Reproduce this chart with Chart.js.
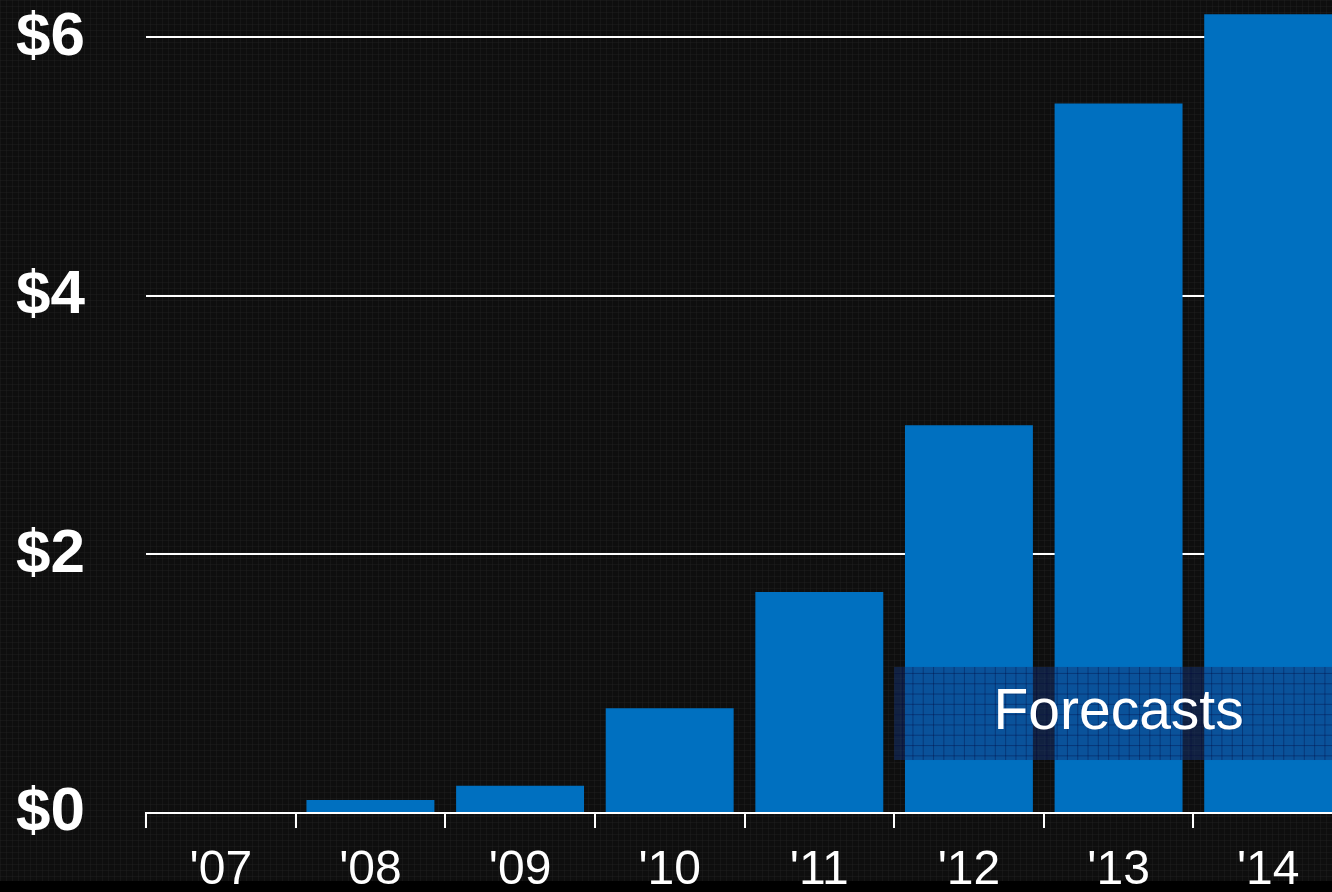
<!DOCTYPE html>
<html>
<head>
<meta charset="utf-8">
<script src="https://cdn.jsdelivr.net/npm/chart.js@4/dist/chart.umd.min.js"></script>
<style>
  html, body { margin: 0; padding: 0; background: #0f0f0f; overflow: hidden; }
  #wrap { position: relative; width: 1343px; height: 892px; }
</style>
</head>
<body>
<div id="wrap"><canvas id="c"></canvas></div>
<script>
// ---- data ----
const categories = ["'07", "'08", "'09", "'10", "'11", "'12", "'13", "'14"];
const values = [0, 0.10, 0.21, 0.81, 1.71, 3.00, 5.49, 6.18];
const yTickValues = [0, 2, 4, 6];
const forecastLabel = "Forecasts";
const forecastStartCategory = "'12";
const forecastBandRange = [0.41, 1.13];

const bgPlugin = {
  id: 'bg',
  beforeDraw(chart) {
    const { ctx, width, height } = chart;
    ctx.save();
    ctx.fillStyle = '#0e0e0e';
    ctx.fillRect(0, 0, width, height);
    ctx.globalAlpha = 0.35;
    ctx.fillStyle = '#262626';
    for (let x = 0; x < width; x += 6) ctx.fillRect(x, 0, 1, height);
    for (let y = 0; y < height; y += 6) ctx.fillRect(0, y, width, 1);
    ctx.globalAlpha = 1;
    ctx.fillStyle = '#000';
    ctx.fillRect(0, 881, width, height - 881);
    ctx.restore();
  }
};

const forecastPlugin = {
  id: 'forecast',
  afterDatasetsDraw(chart) {
    const { ctx, scales: { x, y }, chartArea } = chart;
    const idx = categories.indexOf(forecastStartCategory);
    const half = (x.getPixelForValue(1) - x.getPixelForValue(0)) / 2;
    const left = x.getPixelForValue(idx) - half;
    const right = chartArea.right;
    const top = y.getPixelForValue(forecastBandRange[1]);
    const bottom = y.getPixelForValue(forecastBandRange[0]);
    ctx.save();
    ctx.fillStyle = 'rgba(20,52,116,0.5)';
    ctx.fillRect(left, top, right - left, bottom - top);
    ctx.beginPath();
    ctx.rect(left, top, right - left, bottom - top);
    ctx.clip();
    ctx.fillStyle = 'rgba(0,10,60,0.35)';
    for (let xx = left + 8; xx < right; xx += 10.3) ctx.fillRect(xx, top, 1, bottom - top);
    for (let yy = top + 6; yy < bottom; yy += 10.3) ctx.fillRect(left, yy, right - left, 1);
    ctx.restore();
    ctx.save();
    ctx.fillStyle = '#ffffff';
    ctx.font = '57px "Liberation Sans", Arial, sans-serif';
    ctx.textAlign = 'center';
    ctx.textBaseline = 'middle';
    ctx.fillText(forecastLabel, (left + right) / 2, (top + bottom) / 2);
    ctx.restore();
  }
};

new Chart(document.getElementById('c'), {
  type: 'bar',
  data: {
    labels: categories,
    datasets: [{
      data: values,
      backgroundColor: '#0070C0',
      borderWidth: 0,
      categoryPercentage: 1.0,
      barPercentage: 0.855
    }]
  },
  options: {
    responsive: true,
    maintainAspectRatio: false,
    animation: false,
    layout: { padding: 0 },
    plugins: { legend: { display: false }, tooltip: { enabled: false } },
    scales: {
      x: {
        offset: true,
        grid: {
          offset: true,
          drawOnChartArea: false,
          drawTicks: true,
          tickLength: 15,
          color: '#ffffff',
          lineWidth: 2
        },
        border: { display: true, color: '#ffffff', width: 2 },
        ticks: {
          color: '#ffffff',
          padding: 14,
          maxRotation: 0,
          font: { family: '"Liberation Sans", Arial, sans-serif', size: 48 }
        },
        afterFit(scale) { scale.height = 79; scale.paddingLeft = 0; scale.paddingRight = 0; }
      },
      y: {
        min: 0,
        max: 6.29,
        grid: {
          drawTicks: false,
          color: '#ffffff',
          lineWidth: 2
        },
        border: { display: false },
        afterBuildTicks(scale) {
          scale.ticks = yTickValues.map(v => ({ value: v }));
        },
        ticks: {
          color: '#ffffff',
          padding: 61,
          callback: (v) => '$' + v,
          font: { family: '"Liberation Sans", Arial, sans-serif', size: 62, weight: 'bold' }
        },
        afterFit(scale) { scale.width = 146; scale.paddingTop = 0; scale.paddingBottom = 0; }
      }
    }
  },
  plugins: [bgPlugin, forecastPlugin]
});
</script>
</body>
</html>
